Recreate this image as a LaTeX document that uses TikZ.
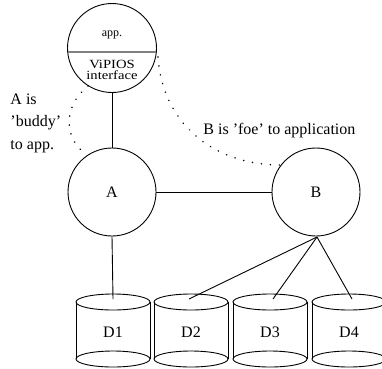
\documentclass[tikz,border=0pt]{standalone}
\usepackage{fontspec}
\setmainfont{Liberation Serif}
\usepackage{graphicx}
\begin{document}
\begin{tikzpicture}[x=1pt,y=-1pt,
  line width=0.9pt,
  proc/.style={circle,draw,minimum size=88pt,inner sep=0pt,font=\fontsize{16}{19}\selectfont},
  lbl/.style={font=\fontsize{16}{22.5}\selectfont,inner sep=0pt},
  dots/.style={line width=1.7pt,dash pattern=on 0.01pt off 9pt,line cap=round},
  link/.style={line width=0.9pt}]
\useasboundingbox (0,0) rectangle (382,368);
\clip (0,0) rectangle (382,368);
% application circle
\node[circle,draw,minimum size=89pt,inner sep=0pt] (app) at (112,48) {};
\draw[gray,line width=1.6pt] (68.3,52) -- (155.7,52);
\node[inner sep=0pt,font=\fontsize{12}{14}\selectfont] (apptxt) at (112,35) {app.};
\node[inner sep=0pt,align=center,font=\fontsize{12.5}{11}\selectfont] (vip) at (112,69.5)
  {\scalebox{1.17}[1]{ViPIOS}\\\scalebox{1.17}[1]{interface}};
% processes
\node[proc] (A) at (112,192) {A};
\node[proc] (B) at (316,192) {B};
\draw[link] (app.south) -- (A.north);
\draw[link] (A.east) -- (B.east -| B.west);
% disks
\foreach \n/\x in {1/113,2/191,3/270,4/349}{
  \draw (\x-37,302) -- (\x-37,359) (\x+37,302) -- (\x+37,359);
  \draw (\x,302) ellipse [x radius=37,y radius=8];
  \draw (\x,359) ellipse [x radius=37,y radius=8];
  \node[inner sep=0pt,font=\fontsize{16}{19}\selectfont] (D\n) at (\x,332) {D\n};
}
\coordinate (d1top) at (113,299);
\coordinate (d2top) at (189,299);
\coordinate (d3top) at (273,299);
\coordinate (d4top) at (352,299);
\coordinate (bbot) at (317,237);
\draw[link] (A.south) -- (d1top);
\draw[link] (bbot) -- (d2top);
\draw[link] (bbot) -- (d3top);
\draw[link] (bbot) -- (d4top);
% dotted relations
\coordinate (l0) at (88,86);
\coordinate (l1) at (82,151);
\coordinate (r0) at (158,57);
\coordinate (r1) at (281,165);
\draw[dots] (l0) .. controls (64,105) and (64,135) .. (l1);
\draw[dots] (r0) .. controls (162,120) and (210,165) .. (r1);
% labels
\node[lbl,anchor=base west] (foe) at (203,134) {B is 'foe' to application};
\node[lbl,anchor=base west,align=left] (buddy) at (10,149) {A is\\'buddy'\\to app.};
\end{tikzpicture}
\end{document}
